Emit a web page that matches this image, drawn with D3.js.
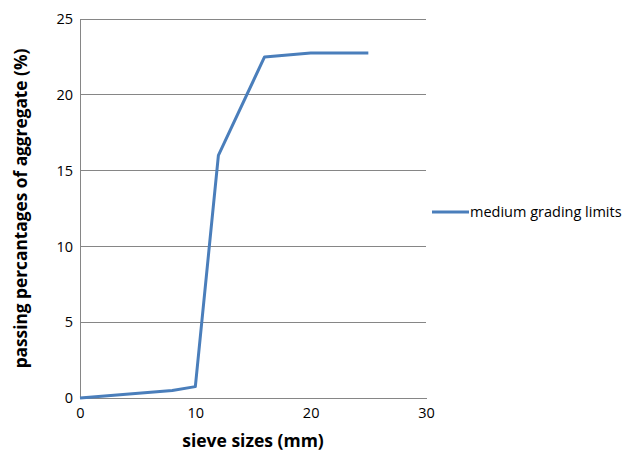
<!DOCTYPE html>
<html>
<head>
<meta charset="utf-8">
<script src="https://cdn.jsdelivr.net/npm/d3@7/dist/d3.min.js"></script>
<style>
	body { margin: 0; background: #fff; }
	text { font-family: 'Open Sans', 'Liberation Sans', sans-serif; fill: #000; }
</style>
</head>
<body>
<script>

	// sieve size (mm) vs passing percentage
	const sieveSizes = [0, 8, 10, 12, 16, 20, 25]
	const passing = [0, 0.5, 0.75, 16, 22.5, 22.75, 22.75]
	const xTicks = [0, 10, 20, 30]
	const yTicks = [0, 5, 10, 15, 20, 25]
	const seriesName = 'medium grading limits'

	var width = 627
	var height = 457

	var margin = {
		top : 19,
		right : 201,
		bottom : 59,
		left : 80
	}

	var plotWidth = width - margin.left - margin.right
	var plotHeight = height - margin.top - margin.bottom

	var svg = d3.select('body')
		.append('svg')
		.attr('width', width)
		.attr('height', height)

	var graph = svg.append('g')
		.attr('transform', `translate(${margin.left}, ${margin.top})`)

	var xScale = d3.scaleLinear()
		.domain([0, 30])
		.range([0, plotWidth])

	var yScale = d3.scaleLinear()
		.domain([0, 25])
		.range([plotHeight, 0])

	// horizontal gridlines
	graph.append('g')
		.selectAll('line')
		.data(yTicks)
		.join('line')
			.attr('x1', 0)
			.attr('x2', plotWidth)
			.attr('y1', d => yScale(d))
			.attr('y2', d => yScale(d))
			.attr('stroke', '#868686')
			.attr('stroke-width', 1)
			.attr('shape-rendering', 'crispEdges')

	var yAxis = graph.append('g')
		.call(d3.axisLeft(yScale).tickValues(yTicks).tickSize(0).tickPadding(7))
	yAxis.select('.domain').attr('stroke', '#868686').attr('shape-rendering', 'crispEdges')
	yAxis.selectAll('text').attr('font-size', 14.5).attr('font-family', 'Open Sans')

	var xAxis = graph.append('g')
		.attr('transform', `translate(0, ${plotHeight})`)
		.call(d3.axisBottom(xScale).tickValues(xTicks).tickSize(0).tickPadding(10))
	xAxis.select('.domain').attr('stroke', '#868686').attr('shape-rendering', 'crispEdges')
	xAxis.selectAll('text').attr('font-size', 14.5).attr('font-family', 'Open Sans')

	var line = d3.line()
		.x((d, i) => xScale(sieveSizes[i]))
		.y(d => yScale(d))

	graph.append('path')
		.datum(passing)
		.attr('d', line)
		.attr('fill', 'none')
		.attr('stroke', '#4A7EBB')
		.attr('stroke-width', 3)
		.attr('stroke-linejoin', 'round')

	// axis titles
	svg.append('text')
		.attr('x', margin.left + plotWidth / 2)
		.attr('y', 447)
		.attr('text-anchor', 'middle')
		.attr('font-size', 17.5)
		.attr('font-weight', 'bold')
		.text('sieve sizes (mm)')

	svg.append('text')
		.attr('transform', `translate(27, ${margin.top + plotHeight / 2}) rotate(-90)`)
		.attr('text-anchor', 'middle')
		.attr('font-size', 17.3)
		.attr('font-weight', 'bold')
		.text('passing percantages of aggregate (%)')

	// legend
	var legend = svg.append('g')
		.attr('transform', 'translate(432, 212)')

	legend.append('line')
		.attr('x1', 0)
		.attr('x2', 37)
		.attr('stroke', '#4A7EBB')
		.attr('stroke-width', 3)

	legend.append('text')
		.attr('x', 38)
		.attr('y', 5)
		.attr('font-size', 14.5)
		.text(seriesName)

</script>
</body>
</html>
